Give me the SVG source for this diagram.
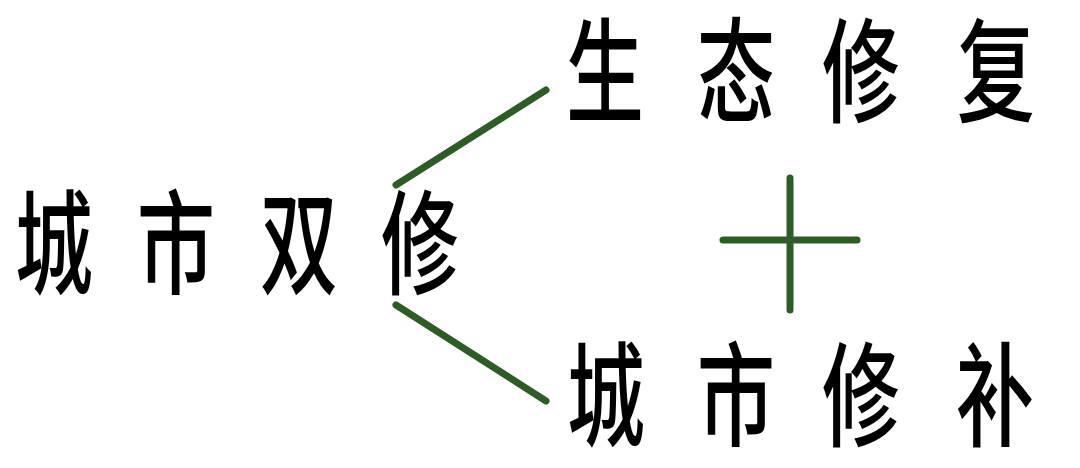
<svg xmlns="http://www.w3.org/2000/svg" width="1080" height="468" viewBox="0 0 1080 468">
  <style>
    .t { font-family: "Noto Sans CJK SC", "Noto Sans CJK JP", sans-serif; font-size: 113px; font-weight: 500; fill: #000; text-anchor: middle; }
    .c { stroke: #2e5c26; stroke-width: 7; stroke-linecap: round; fill: none; }
  </style>
  <rect width="1080" height="468" fill="#fff"/>
  <g id="connectors">
    <line class="c" x1="396" y1="185" x2="546" y2="90"/>
    <line class="c" x1="396" y1="305" x2="546" y2="401"/>
    <line class="c" x1="723" y1="240" x2="857" y2="240"/>
    <line class="c" x1="790" y1="178" x2="790" y2="310"/>
  </g>
  <g id="node-main" transform="scale(0.69,1)">
    <text class="t" x="78.3" y="285">城</text>
    <text class="t" x="255.1" y="285">市</text>
    <text class="t" x="433.3" y="285">双</text>
    <text class="t" x="608.7" y="285">修</text>
  </g>
  <g id="node-eco" transform="scale(0.69,1)">
    <text class="t" x="876.8" y="113">生</text>
    <text class="t" x="1066.7" y="113">态</text>
    <text class="t" x="1247.8" y="113">修</text>
    <text class="t" x="1443.5" y="113">复</text>
  </g>
  <g id="node-city" transform="scale(0.69,1)">
    <text class="t" x="878.3" y="437">城</text>
    <text class="t" x="1066.7" y="437">市</text>
    <text class="t" x="1247.8" y="437">修</text>
    <text class="t" x="1442" y="437">补</text>
  </g>
</svg>
